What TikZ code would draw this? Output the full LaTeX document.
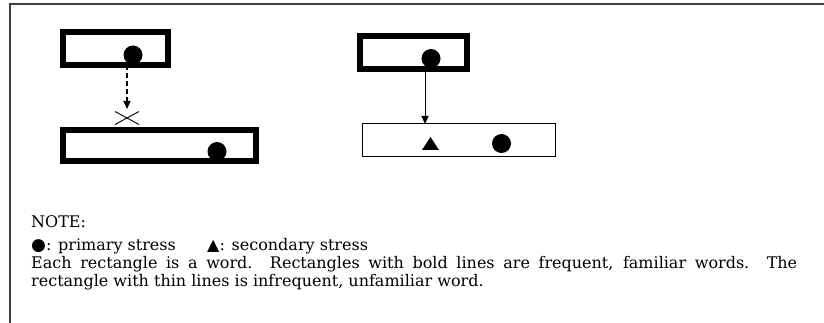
\documentclass[tikz,border=0pt]{standalone}
\usepackage{fontspec}
\setmainfont{DejaVu Serif}
\newfontfamily\symfont{DejaVu Sans}
\usetikzlibrary{arrows.meta}
\begin{document}
\begin{tikzpicture}[x=1pt,y=-1pt,
  boldword/.style={draw=black,line width=6pt,inner sep=0pt,outer sep=0pt},
  thinword/.style={draw=black,line width=1pt,inner sep=0pt,outer sep=0pt},
  stressdot/.style={circle,fill=black,inner sep=0pt,minimum size=19pt},
  dasharrow/.style={-{Triangle[length=8pt,width=7pt]},line width=1.2pt,dash pattern=on 5pt off 3pt},
  solidarrow/.style={-{Triangle[length=8pt,width=7pt]},line width=1pt},
  notetext/.style={anchor=base west,inner sep=0pt,font=\fontsize{16}{18}\selectfont}
]
\useasboundingbox (0,0) rectangle (824,323);
% frame
\draw[line width=1.8pt,black!75] (10,323) -- (10,4.3) -- (824,4.3);

% left pair: stress shift blocked
\node[boldword,minimum width=105pt,minimum height=33pt] (wa) at (115.5,48.5) {};
\node[stressdot] (pa) at (133,55) {};
\node[boldword,minimum width=193pt,minimum height=31pt] (wb) at (159.5,145.5) {};
\node[stressdot] (pb) at (217,151.5) {};
\coordinate (ta) at (127,109);
\coordinate (xa) at (127,118);
\draw[dasharrow] (wa.south -| ta) -- (ta);
\draw[line width=0.9pt] (xa) ++(-12,-6.5) -- ++(24,13);
\draw[line width=0.9pt] (xa) ++(-12,6.5) -- ++(24,-13);

% right pair: stress transferred as secondary stress
\node[boldword,minimum width=107pt,minimum height=33pt] (wc) at (413.5,52.5) {};
\node[stressdot] (pc) at (431,58.5) {};
\node[thinword,minimum width=193pt,minimum height=33pt] (wd) at (458.5,140.5) {};
\coordinate (tc) at (425,0);
\draw[solidarrow] (wc.south -| tc) -- (wd.north -| tc);
\fill (422,150) -- (439,150) -- (430.5,137) -- cycle;
\node[stressdot] (pd) at (501.5,143.5) {};

% note
\node[notetext] (note) at (31,227) {NOTE:};
\node[notetext] (leg1) at (31,250) {{\symfont\fontsize{17}{18}\selectfont ●}: primary stress};
\node[notetext] (leg2) at (207,250) {{\symfont\fontsize{16}{18}\selectfont ▲}: secondary stress};
\node[notetext] (l1) at (31,268) {\makebox[766pt][s]{Each rectangle is a word. Rectangles with bold lines are frequent, familiar words. The}};
\node[notetext] (l2) at (31,286) {rectangle with thin lines is infrequent, unfamiliar word.};
\end{tikzpicture}
\end{document}
